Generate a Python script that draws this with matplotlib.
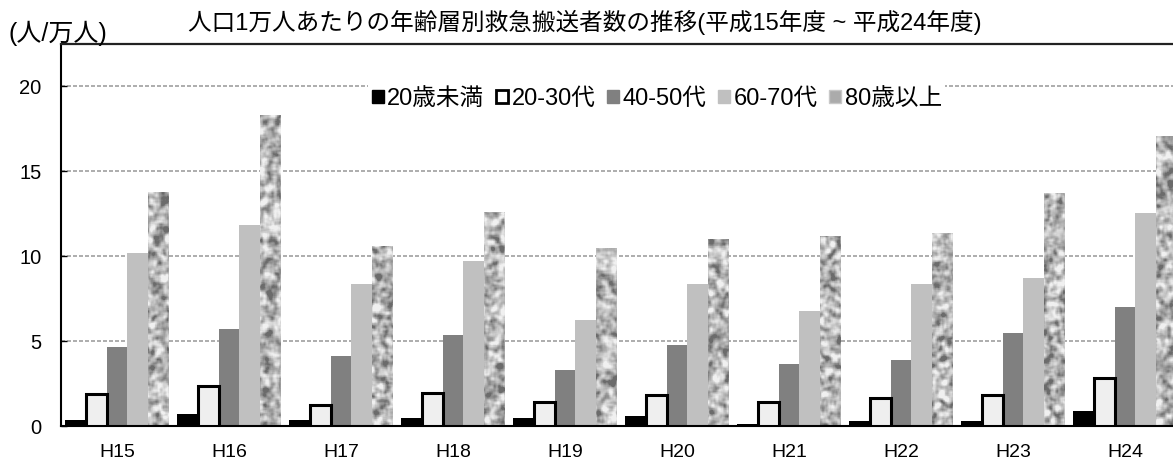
import numpy as np
import matplotlib
matplotlib.use("Agg")
import matplotlib.pyplot as plt
from matplotlib.patches import Patch

years = ["H15", "H16", "H17", "H18", "H19", "H20", "H21", "H22", "H23", "H24"]
labels = ["20歳未満", "20-30代", "40-50代", "60-70代", "80歳以上"]

under20 = [0.38, 0.69, 0.37, 0.49, 0.49, 0.59, 0.10, 0.31, 0.30, 0.88]
age20_30 = [1.91, 2.34, 1.23, 1.95, 1.44, 1.81, 1.44, 1.63, 1.81, 2.80]
age40_50 = [4.66, 5.72, 4.11, 5.35, 3.32, 4.76, 3.68, 3.87, 5.45, 6.98]
age60_70 = [10.20, 11.84, 8.36, 9.71, 6.23, 8.34, 6.80, 8.34, 8.73, 12.53]
over80 = [13.79, 18.33, 10.60, 12.60, 10.46, 11.01, 11.19, 11.35, 13.71, 17.09]

JP = ["Liberation Sans", "Noto Sans CJK JP", "DejaVu Sans"]
plt.rcParams["font.family"] = JP


def hash_noise(h, w, seed):
    y, x = np.mgrid[0:h, 0:w]
    v = np.sin(x * 12.9898 + y * 78.233 + seed * 37.719) * 43758.5453
    return v - np.floor(v)


def box_blur(a, k):
    p = k // 2
    padded = np.pad(a, p, mode="wrap")
    out = np.zeros_like(a)
    for dy in range(k):
        for dx in range(k):
            out += padded[dy:dy + a.shape[0], dx:dx + a.shape[1]]
    return out / (k * k)


def granite(h, w, seed):
    # blotchy grey stone look: coarse cells blurred, then contrast stretched
    hh, ww = h // 2 + 2, w // 2 + 2
    base = box_blur(hash_noise(hh, ww, seed), 3)
    base = np.repeat(np.repeat(base, 2, axis=0), 2, axis=1)[:h, :w]
    fine = box_blur(hash_noise(h, w, seed + 7), 3)
    t = 0.75 * base + 0.25 * fine
    t = box_blur(t, 3)
    lo, hi = np.percentile(t, [3, 97])
    t = np.clip((t - lo) / (hi - lo), 0, 1)
    return 0.42 + 0.52 * t ** 0.8


fig = plt.figure(figsize=(11.73, 4.63), dpi=100)
ax = fig.add_axes([61 / 1173, 37 / 463, 1120 / 1173, 382 / 463])

x = np.arange(len(years))
w = 0.184
ymax = 22.5
px_per_unit = 382 / ymax

ax.bar(x - 2 * w, under20, w, color="black", zorder=2)
ax.bar(x - w, age20_30, w, color="#efefef", edgecolor="black", linewidth=2.2, zorder=3)
ax.bar(x, age40_50, w, color="#808080", zorder=2)
ax.bar(x + w, age60_70, w, color="#c0c0c0", zorder=2)
bars80 = ax.bar(x + 2 * w, over80, w, color="none", linewidth=0, zorder=2)

# granite-like fill for the oldest group
for i, b in enumerate(bars80):
    h = b.get_height()
    rows = max(int(round(h * px_per_unit)), 2)
    tex = granite(rows, 21, i + 1)
    im = ax.imshow(tex, cmap="gray", vmin=0, vmax=1, aspect="auto",
                   extent=[b.get_x(), b.get_x() + b.get_width(), 0, h],
                   interpolation="nearest", zorder=2)
    im.set_clip_path(b)

ax.set_xlim(-0.5, len(years) - 0.5)
ax.set_ylim(0, ymax)
ax.set_yticks([0, 5, 10, 15, 20])
ax.set_xticks(x)
ax.set_xticklabels(years)
ax.tick_params(axis="y", direction="in", length=4, width=1, labelsize=14.5, pad=14)
ax.tick_params(axis="x", length=0, labelsize=14, pad=13)

ax.yaxis.grid(True, color="#a0a0a0", linestyle=(0, (2.4, 1.2)), linewidth=1.2)
ax.set_axisbelow(True)

for side in ["left", "bottom"]:
    ax.spines[side].set_linewidth(1.5)
ax.spines["top"].set_linewidth(1.6)
ax.spines["top"].set_color("#222222")
ax.spines["right"].set_visible(False)

handles = [
    Patch(facecolor="black", edgecolor="black"),
    Patch(facecolor="white", edgecolor="black", linewidth=2),
    Patch(facecolor="#808080", edgecolor="#808080"),
    Patch(facecolor="#c0c0c0", edgecolor="#c0c0c0"),
    Patch(facecolor="#ababab", edgecolor="#c8c8c8"),
]
leg = ax.legend(handles, labels, loc="center", bbox_to_anchor=(0.532, 0.856),
                ncol=5, frameon=True, fontsize=17, handlelength=0.5,
                handleheight=0.5, handletextpad=0.15, columnspacing=0.5,
                borderpad=0.15, fancybox=False)
leg.get_frame().set_edgecolor("none")
leg.get_frame().set_facecolor("white")
leg.get_frame().set_alpha(1)

fig.text(585 / 1173, 1 - 22 / 463, "人口1万人あたりの年齢層別救急搬送者数の推移(平成15年度 ~ 平成24年度)",
         ha="center", va="center", fontsize=17)
fig.text(8 / 1173, 1 - 33 / 463, "(人/万人)", ha="left", va="center", fontsize=18)

fig.savefig("out.png", dpi=100)
